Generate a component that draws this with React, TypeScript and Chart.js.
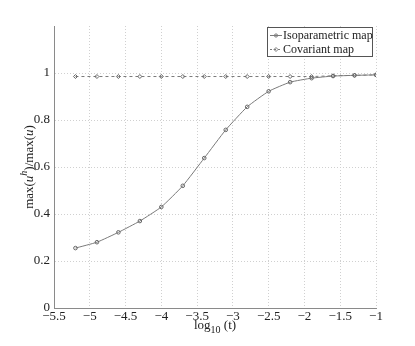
import React, { useEffect, useRef } from "react";
import { Chart, registerables } from "chart.js";

Chart.register(...registerables);

const logT = [-5.2, -4.9, -4.6, -4.3, -4.0, -3.7, -3.4, -3.1, -2.8, -2.5, -2.2, -1.9, -1.6, -1.3, -1.0];
const isoparametric = [0.255, 0.28, 0.322, 0.37, 0.43, 0.52, 0.638, 0.758, 0.856, 0.922, 0.961, 0.978, 0.987, 0.99, 0.992];
const covariant = [0.985, 0.985, 0.985, 0.985, 0.985, 0.985, 0.985, 0.985, 0.985, 0.985, 0.985, 0.985, 0.988, 0.99, 0.992];
const seriesNames = ["Isoparametric map", "Covariant map"];
const xTicks = [-5.5, -5, -4.5, -4, -3.5, -3, -2.5, -2, -1.5, -1];

const FONT = "Liberation Serif, serif";
const LINE = "#7a7a7a";
const GRID = "#d0d0d0";
const AXIS = "#8a8a8a";

type Seg = { t: string; size: number; dy: number; italic?: boolean };

function drawRich(ctx: CanvasRenderingContext2D, segs: Seg[], cx: number, cy: number) {
  let total = 0;
  for (const s of segs) {
    ctx.font = `${s.italic ? "italic " : ""}${s.size}px ${FONT}`;
    total += ctx.measureText(s.t).width;
  }
  let x = cx - total / 2;
  for (const s of segs) {
    ctx.font = `${s.italic ? "italic " : ""}${s.size}px ${FONT}`;
    ctx.fillText(s.t, x, cy + s.dy);
    x += ctx.measureText(s.t).width;
  }
}

const decorPlugin = {
  id: "decor",
  afterDraw(chart: any) {
    const ctx = chart.ctx as CanvasRenderingContext2D;
    const a = chart.chartArea;
    ctx.save();
    ctx.fillStyle = "#222";
    ctx.textBaseline = "middle";
    ctx.textAlign = "left";
    // x title
    drawRich(ctx, [
      { t: "log", size: 13, dy: 0 },
      { t: "10", size: 10, dy: 4 },
      { t: " (t)", size: 13, dy: 0 },
    ], (a.left + a.right) / 2, 326);
    // y title
    ctx.save();
    ctx.translate(30, (a.top + a.bottom) / 2);
    ctx.rotate(-Math.PI / 2);
    drawRich(ctx, [
      { t: "max(", size: 13, dy: 0 },
      { t: "u", size: 13, dy: 0, italic: true },
      { t: "h", size: 10, dy: -6, italic: true },
      { t: ")/max(", size: 13, dy: 0 },
      { t: "u", size: 13, dy: 0, italic: true },
      { t: ")", size: 13, dy: 0 },
    ], 0, 0);
    ctx.restore();
    // legend
    const bx = 267, by = 27, bw = 105, bh = 29;
    ctx.fillStyle = "#fff";
    ctx.fillRect(bx, by, bw, bh);
    ctx.strokeStyle = "#555";
    ctx.lineWidth = 1;
    ctx.strokeRect(bx + 0.5, by + 0.5, bw, bh);
    const rows = [by + 8, by + 22];
    ctx.strokeStyle = LINE;
    ctx.setLineDash([]);
    ctx.beginPath();
    ctx.moveTo(270, rows[0] + 0.5);
    ctx.lineTo(282, rows[0] + 0.5);
    ctx.stroke();
    ctx.beginPath();
    ctx.arc(276, rows[0] + 0.5, 1.6, 0, Math.PI * 2);
    ctx.stroke();
    ctx.setLineDash([2, 2]);
    ctx.beginPath();
    ctx.moveTo(270, rows[1] + 0.5);
    ctx.lineTo(282, rows[1] + 0.5);
    ctx.stroke();
    ctx.setLineDash([]);
    ctx.beginPath();
    ctx.moveTo(276, rows[1] - 1.5);
    ctx.lineTo(278, rows[1] + 0.5);
    ctx.lineTo(276, rows[1] + 2.5);
    ctx.lineTo(274, rows[1] + 0.5);
    ctx.closePath();
    ctx.stroke();
    ctx.fillStyle = "#222";
    ctx.font = `12px ${FONT}`;
    ctx.fillText(seriesNames[0], 283, rows[0] + 1);
    ctx.fillText(seriesNames[1], 283, rows[1] + 1);
    ctx.restore();
  },
};

export default function App() {
  const ref = useRef<HTMLCanvasElement>(null);
  useEffect(() => {
    document.body.style.margin = "0";
    const chart = new Chart(ref.current!, {
      type: "line",
      data: {
        datasets: [
          {
            label: seriesNames[0],
            data: logT.map((x, i) => ({ x, y: isoparametric[i] })),
            borderColor: LINE,
            borderWidth: 1,
            pointStyle: "circle",
            pointRadius: 1.8,
            pointBorderColor: "#666",
            pointBackgroundColor: "rgba(0,0,0,0)",
            pointBorderWidth: 1,
            tension: 0.15,
          },
          {
            label: seriesNames[1],
            data: logT.map((x, i) => ({ x, y: covariant[i] })),
            borderColor: LINE,
            borderWidth: 1,
            borderDash: [3, 3],
            pointStyle: "rectRot",
            pointRadius: 2,
            pointBorderColor: "#666",
            pointBackgroundColor: "rgba(0,0,0,0)",
            pointBorderWidth: 1,
          },
        ],
      },
      options: {
        animation: false,
        responsive: false,
        layout: { padding: { top: 26, right: 39, left: 0, bottom: 0 } },
        plugins: { legend: { display: false }, tooltip: { enabled: false } },
        scales: {
          x: {
            type: "linear",
            min: -5.5,
            max: -1,
            afterBuildTicks: (s: any) => {
              s.ticks = xTicks.map((v) => ({ value: v }));
            },
            afterFit: (s: any) => {
              s.height = 38;
            },
            ticks: {
              color: "#222",
              font: { family: FONT, size: 13 },
              padding: 1,
              maxRotation: 0,
              autoSkip: false,
              callback: (v: any) => String(v).replace("-", "\u2212"),
            },
            grid: {
              color: (c: any) => (c.tick && c.tick.value === -5.5 ? "rgba(0,0,0,0)" : GRID),
              lineWidth: 1,
              drawTicks: false,
            },
            border: { color: AXIS, width: 1, dash: [1, 2] },
          },
          y: {
            min: 0,
            max: 1.2,
            afterFit: (s: any) => {
              s.width = 54;
            },
            ticks: {
              stepSize: 0.2,
              color: "#222",
              font: { family: FONT, size: 13 },
              padding: 4,
              callback: (v: any) => (Math.abs(v - 1.2) < 1e-6 ? "" : String(Math.round(v * 10) / 10)),
            },
            grid: {
              color: (c: any) =>
                c.tick && (Math.abs(c.tick.value - 1.2) < 1e-6 || c.tick.value === 0) ? "rgba(0,0,0,0)" : GRID,
              lineWidth: 1,
              drawTicks: false,
            },
            border: { color: AXIS, width: 1, dash: [1, 2] },
          },
        },
      } as any,
      plugins: [decorPlugin],
    });
    return () => chart.destroy();
  }, []);
  return (
    <div style={{ width: 415, height: 346 }}>
      <canvas ref={ref} width={415} height={346} style={{ display: "block" }} />
    </div>
  );
}
